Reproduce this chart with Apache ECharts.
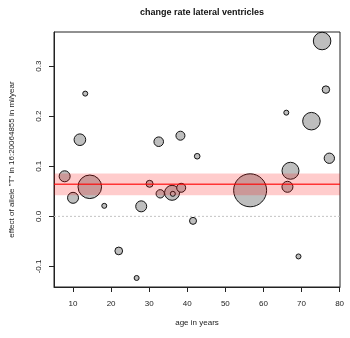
<!DOCTYPE html>
<html>
<head>
<meta charset="utf-8">
<script src="https://cdn.jsdelivr.net/npm/echarts@6/dist/echarts.min.js"></script>
<style>
  html, body { margin: 0; padding: 0; background: #fff; }
  #main { width: 350px; height: 338px; }
</style>
</head>
<body>
<div id="main"></div>
<script>
// study data
var age    = [7.8, 10.0, 11.8, 13.2, 14.4, 18.2, 22.0, 26.7, 27.9, 30.1, 32.5, 32.9, 36.0, 36.2,
              38.2, 38.4, 41.5, 42.6, 56.5, 66.0, 66.3, 67.1, 69.2, 72.6, 75.4, 76.4, 77.3];
var effect = [0.080, 0.037, 0.153, 0.245, 0.059, 0.021, -0.069, -0.123, 0.020, 0.065, 0.149, 0.045, 0.047, 0.045,
              0.161, 0.057, -0.009, 0.120, 0.052, 0.207, 0.059, 0.091, -0.080, 0.190, 0.350, 0.253, 0.116];
var weight = [36, 36, 40, 9, 151, 9, 19, 9, 36, 16, 28, 22, 64, 9,
              25, 25, 16, 11, 289, 9, 36, 81, 9, 86, 86, 18, 32];

var pooled = 0.064;            // pooled effect
var pooledCI = [0.042, 0.0855]; // confidence band
var xTicks = [10, 20, 30, 40, 50, 60, 70, 80];
var yTicks = [-0.1, 0, 0.1, 0.2, 0.3];

var pts = [];
for (var i = 0; i < age.length; i++) {
    pts.push([age[i], effect[i], weight[i]]);
}

var font = 'Liberation Sans, Arial, sans-serif';
var chart = echarts.init(document.getElementById('main'));

// full-width horizontal band / line inside the grid
function hBand(params, api) {
    var cs = params.coordSys;
    var lo = api.coord([10, api.value(0)])[1];
    var hi = api.coord([10, api.value(1)])[1];
    var mid = api.coord([10, api.value(2)])[1];
    return {
        type: 'group',
        children: [{
            type: 'rect',
            shape: { x: cs.x, y: hi, width: cs.width, height: lo - hi },
            style: { fill: 'rgba(255,0,0,0.2)' }
        }, {
            type: 'line',
            shape: { x1: cs.x, y1: mid, x2: cs.x + cs.width, y2: mid },
            style: { stroke: 'rgba(255,0,0,0.75)', lineWidth: 1.6 }
        }]
    };
}

function zeroLine(params, api) {
    var cs = params.coordSys;
    var y0 = api.coord([10, api.value(0)])[1];
    return {
        type: 'line',
        shape: { x1: cs.x, y1: y0, x2: cs.x + cs.width, y2: y0 },
        style: { stroke: '#c4c4c4', lineWidth: 1, lineDash: [2, 2] }
    };
}

var option = {
    animation: false,
    title: {
        text: 'change rate lateral ventricles',
        left: 197,
        textAlign: 'center',
        top: 3,
        textStyle: { fontFamily: font, fontSize: 9, fontWeight: 'bold', color: '#111' }
    },
    grid: {
        left: 54, right: 10, top: 32, bottom: 51,
        show: true, borderColor: '#222', borderWidth: 1
    },
    xAxis: {
        type: 'value',
        min: 5.0,
        max: 80.1,
        name: 'age in years',
        nameLocation: 'middle',
        nameGap: 32,
        nameTextStyle: { fontFamily: font, fontSize: 8, color: '#222' },
        axisLine: { show: true, onZero: false, lineStyle: { color: '#222' } },
        axisTick: { show: true, length: 5, customValues: xTicks, lineStyle: { color: '#222' } },
        axisLabel: { customValues: xTicks, margin: 13, fontFamily: font, fontSize: 8, color: '#222' },
        splitLine: { show: false }
    },
    yAxis: {
        type: 'value',
        min: -0.141,
        max: 0.368,
        name: 'effect of allele "T" in 16:20064855 in ml/year',
        nameLocation: 'middle',
        nameRotate: 90,
        nameGap: 38,
        nameTextStyle: { fontFamily: font, fontSize: 8, color: '#222' },
        axisLine: { show: true, onZero: false, lineStyle: { color: '#222' } },
        axisTick: { show: true, length: 5, customValues: yTicks, lineStyle: { color: '#222' } },
        axisLabel: {
            customValues: yTicks, rotate: 90, margin: 11,
            fontFamily: font, fontSize: 8, color: '#222',
            formatter: function (v) { return v.toFixed(1); }
        },
        splitLine: { show: false }
    },
    series: [{
        type: 'custom',
        z: 1,
        silent: true,
        clip: false,
        renderItem: zeroLine,
        encode: { y: 0 },
        data: [[0]]
    }, {
        type: 'scatter',
        z: 2,
        data: pts,
        symbolSize: function (d) { return 2 * Math.sqrt(d[2]) - 1; },
        itemStyle: { color: '#bebebe', borderColor: '#111', borderWidth: 1, opacity: 1 }
    }, {
        // pooled estimate drawn over the studies, as in the original
        type: 'custom',
        z: 3,
        silent: true,
        clip: false,
        renderItem: hBand,
        encode: { y: [0, 1, 2] },
        data: [[pooledCI[0], pooledCI[1], pooled]]
    }]
};
chart.setOption(option);
</script>
</body>
</html>
